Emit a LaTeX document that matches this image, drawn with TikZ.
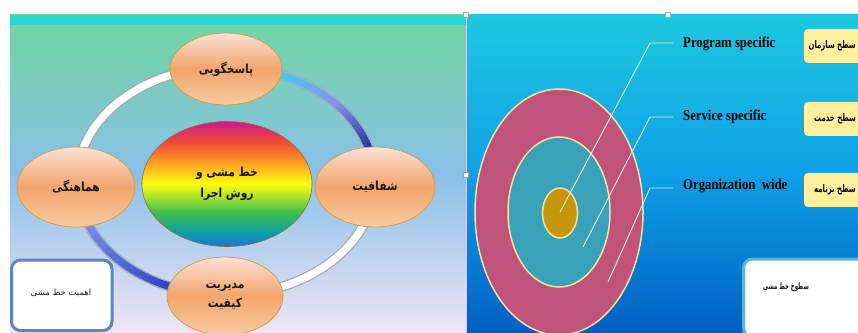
\documentclass[tikz,border=0pt]{standalone}
\usepackage{fontspec}
\setmainfont{Liberation Serif}
\newfontfamily\arabicfont[Script=Arabic]{DejaVu Sans}
\newfontfamily\arabicnode[Script=Arabic,FakeStretch=0.86]{DejaVu Sans}
\newfontfamily\arabiccond[Script=Arabic,FakeStretch=0.66]{DejaVu Sans}
\newfontfamily\arabicnarrow[Script=Arabic,FakeStretch=0.6]{DejaVu Sans}
\newfontfamily\labfont[FakeStretch=0.85]{Liberation Serif}
\TeXXeTstate=1
\usetikzlibrary{calc,shapes.geometric}
\definecolor{lpTop}{HTML}{70D6A0}
\definecolor{lpMid}{HTML}{8AC0E8}
\definecolor{lpBot}{HTML}{EEE4F4}
\definecolor{lpStrip}{HTML}{2ED4CC}
\definecolor{rpTop}{HTML}{1EC8E0}
\definecolor{rpMid}{HTML}{0FA0E6}
\definecolor{rpBot}{HTML}{0060C2}
\definecolor{ringShade}{HTML}{A0A8BC}
\definecolor{cyanc}{HTML}{3CD0EE}
\definecolor{periw}{HTML}{8494EE}
\definecolor{navy}{HTML}{23348F}
\definecolor{deepb}{HTML}{1C3CB8}
\definecolor{peachTop}{HTML}{FBE0D6}
\definecolor{peachMid}{HTML}{F3A56C}
\definecolor{peachBot}{HTML}{F8CBA0}
\definecolor{nodeEdge}{HTML}{C9A24A}
\definecolor{rbBlue}{HTML}{1E74DC}
\definecolor{rbTeal}{HTML}{0EA0A0}
\definecolor{rbGreen}{HTML}{44C04C}
\definecolor{rbYellow}{HTML}{FFFF10}
\definecolor{rbOrange}{HTML}{FFB020}
\definecolor{rbRed}{HTML}{F25030}
\definecolor{rbMagenta}{HTML}{D0188C}
\definecolor{boxBlue}{HTML}{5B86C4}
\definecolor{boxTeal}{HTML}{5AB4D4}
\definecolor{outerRose}{HTML}{C0537A}
\definecolor{midTeal}{HTML}{3AA2B8}
\definecolor{innerGold}{HTML}{C6960C}
\definecolor{ellEdge}{HTML}{F0E4A0}
\definecolor{leaderc}{HTML}{DCEFD8}
\definecolor{yelBox}{HTML}{FFF09E}
\definecolor{inkc}{HTML}{1A1A1A}
\pgfdeclareverticalshading{rainbow}{100bp}{color(0bp)=(rbBlue); color(25bp)=(rbBlue); color(31bp)=(rbTeal); color(39bp)=(rbGreen); color(50bp)=(rbYellow); color(57bp)=(rbOrange); color(66bp)=(rbRed); color(75bp)=(rbMagenta); color(100bp)=(rbMagenta)}
\begin{document}
\begin{tikzpicture}[x=1pt,y=1pt,
  peach/.style={ellipse, draw=nodeEdge, line width=0.8pt, top color=peachTop, bottom color=peachBot, middle color=peachMid, inner sep=0pt, align=center, text=inkc, font=\arabicnode\bfseries\fontsize{12.5}{19}\selectfont},
  leader/.style={draw=leaderc, line width=0.9pt},
  lab/.style={font=\labfont\bfseries\fontsize{15}{18}\selectfont, inner sep=0pt, anchor=west},
  ylab/.style={font=\arabiccond\bfseries\fontsize{10.5}{12}\selectfont, inner sep=0pt, anchor=east},
  ringseg/.style={line width=7.5pt},
  handle/.style={draw=gray!70, fill=white, line width=0.5pt, minimum size=5pt, inner sep=0pt}]
\useasboundingbox (0,0) rectangle (858,332);
\fill[white] (0,0) rectangle (858,332);
\clip (0,0) rectangle (858,332);
% panels
\fill[top color=lpTop, bottom color=lpBot, middle color=lpMid] (10,0) rectangle (466,317);
\fill[lpStrip] (10,307) rectangle (466,317);
\fill[top color=rpTop, bottom color=rpBot, middle color=rpMid] (467,0) rectangle (858,317);
\draw[white!80!blue, line width=1pt] (466.5,0) -- (466.5,317);
% ring
\coordinate (rc) at (226,151);
\draw[ringShade, line width=10pt] (rc) ellipse [x radius=149, y radius=114];
\draw[white, ringseg] (rc) ellipse [x radius=149, y radius=114];
\foreach \i [evaluate=\i as \a using 72-\i*1.4, evaluate=\i as \p using \i*100/20] in {0,...,20}
  \draw[ringseg, color=periw!\p!cyanc] ($(rc)+(\a:149 and 114)$) arc[start angle=\a, end angle=\a-1.8, x radius=149, y radius=114];
\foreach \i [evaluate=\i as \a using 44-\i*1.4, evaluate=\i as \p using \i*100/20] in {0,...,20}
  \draw[ringseg, color=navy!\p!periw] ($(rc)+(\a:149 and 114)$) arc[start angle=\a, end angle=\a-1.8, x radius=149, y radius=114];
\foreach \i [evaluate=\i as \a using 198+\i*1.4, evaluate=\i as \p using \i*100/40] in {0,...,40}
  \draw[ringseg, color=deepb!\p!periw] ($(rc)+(\a:149 and 114)$) arc[start angle=\a, end angle=\a+1.8, x radius=149, y radius=114];
% nodes
\node[ellipse, draw=nodeEdge!70!black, line width=0.6pt, shading=rainbow, minimum width=170pt, minimum height=125pt, inner sep=0pt, align=center, text=inkc, font=\arabicnode\bfseries\fontsize{12.5}{21}\selectfont] (core) at (227,148) {\beginR خط مشی و\endR\\\beginR روش اجرا\endR};
\node[peach, minimum width=112pt, minimum height=72pt] (top) at (226,263) {\beginR پاسخگویی\endR};
\node[peach, minimum width=118pt, minimum height=80pt] (left) at (76,145) {\beginR هماهنگی\endR};
\node[peach, minimum width=120pt, minimum height=80pt] (right) at (375,145) {\beginR شفافیت\endR};
\node[peach, minimum width=116pt, minimum height=78pt] (bottom) at (225,36) {\beginR مدیریت\endR\\\beginR کیفیت\endR};
% left box
\draw[boxBlue, line width=3pt, fill=white, rounded corners=9pt] (11.5,1.5) rectangle (112,72);
\node[font=\arabicfont\fontsize{8.5}{10}\selectfont, text=inkc] (imp) at (61,39) {\beginR اهمیت خط مشی\endR};
% right target
\draw[ellEdge, line width=1.5pt, fill=outerRose] (559,120) ellipse [x radius=84, y radius=123];
\draw[ellEdge, line width=1.5pt, fill=midTeal] (559,120) ellipse [x radius=51, y radius=75];
\draw[ellEdge, line width=1.5pt, fill=innerGold] (560,119) ellipse [x radius=17.5, y radius=25];
\coordinate (p1) at (560,120);
\coordinate (p2) at (583,85);
\coordinate (p3) at (608,50);
\coordinate (k1) at (650,289);
\coordinate (k2) at (650,215);
\coordinate (k3) at (650,144);
\node[lab] (ps) at (683,288) {Program specific};
\node[lab] (ss) at (683,215) {Service specific};
\node[lab] (ow) at (683,146) {Organization\ \ wide};
\draw[leader] (p1) -- (k1) -- ([xshift=-10pt]k1 -| ps.west);
\draw[leader] (p2) -- (k2) -- ([xshift=-10pt]k2 -| ss.west);
\draw[leader] (p3) -- (k3) -- ([xshift=-10pt]k3 -| ow.west);
% yellow boxes
\fill[yelBox, rounded corners=4pt] (804,269) rectangle (875,303);
\fill[yelBox, rounded corners=4pt] (804,196) rectangle (875,230);
\fill[yelBox, rounded corners=4pt] (804,125) rectangle (875,159);
\node[ylab] (y1) at (856,286) {\beginR سطح سازمان\endR};
\node[ylab] (y2) at (856,213) {\beginR سطح خدمت\endR};
\node[ylab] (y3) at (856,142) {\beginR سطح برنامه\endR};
% bottom-right box
\draw[boxTeal, line width=3pt, fill=white, rounded corners=9pt] (743.5,-5) rectangle (875,73);
\node[font=\arabicnarrow\bfseries\fontsize{9}{10}\selectfont, text=inkc] (lev) at (786,45) {\beginR سطوح خط مشی\endR};
% selection handles
\node[handle] (h1) at (466,317) {};
\node[handle] (h2) at (668,317) {};
\node[handle] (h3) at (466,157) {};
\end{tikzpicture}
\end{document}
